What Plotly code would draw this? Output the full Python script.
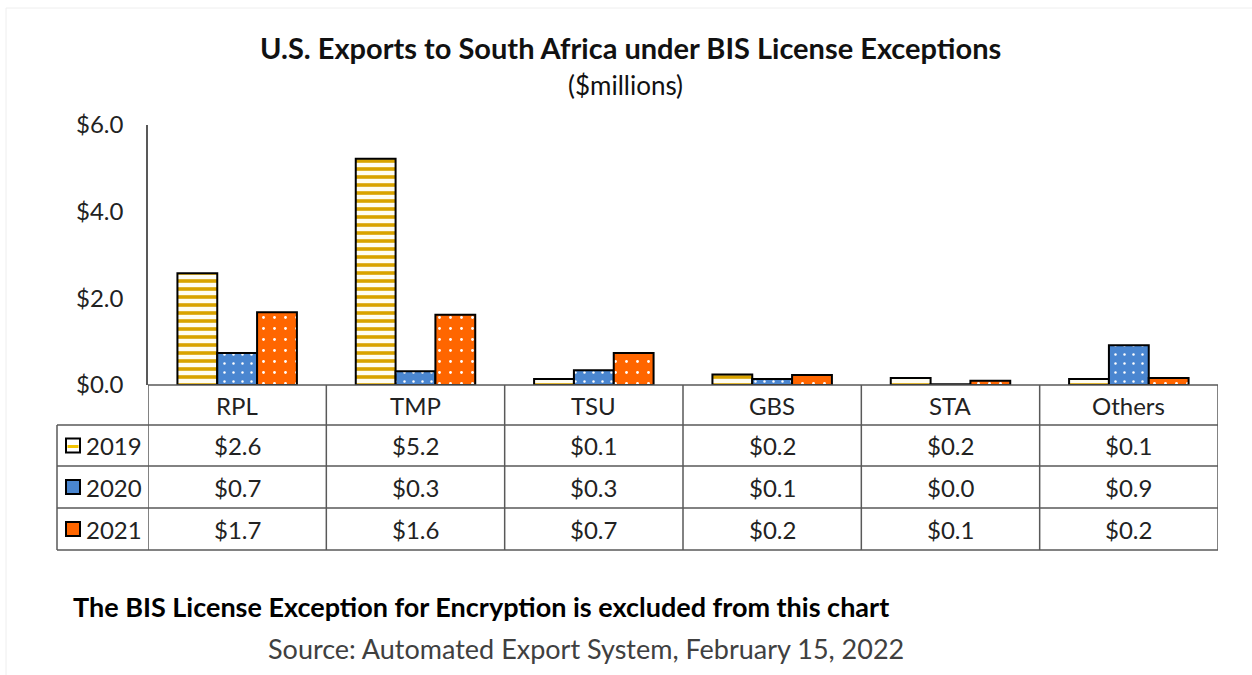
import plotly.graph_objects as go

categories = ["RPL", "TMP", "TSU", "GBS", "STA", "Others"]
years = ["2019", "2020", "2021"]
v2019 = [2.58, 5.22, 0.14, 0.24, 0.16, 0.14]
v2020 = [0.74, 0.32, 0.34, 0.14, 0.02, 0.92]
v2021 = [1.68, 1.62, 0.74, 0.23, 0.10, 0.16]
series = [v2019, v2020, v2021]
yticks = [0, 2, 4, 6]
ytick_text = ["$0.0", "$2.0", "$4.0", "$6.0"]

title = "U.S. Exports to South Africa under BIS License Exceptions"
subtitle = "($millions)"
note = "The BIS License Exception for Encryption is excluded from this chart"
source = "Source: Automated Export System, February 15, 2022"

FONT = "Lato"
TXT = "#222222"
GRID = "#595959"

styles = [
    dict(color="#FFFFFF", pattern=dict(shape="-", fgcolor="#D9A300", bgcolor="#FFFDF2",
                                       size=8, solidity=0.45, fillmode="replace", fgopacity=1)),
    dict(color="#4A86D0", pattern=dict(shape=".", fgcolor="#FFFFFF", bgcolor="#4A86D0",
                                       size=9, solidity=0.06, fillmode="replace", fgopacity=1)),
    dict(color="#FF6600", pattern=dict(shape=".", fgcolor="#FFFFFF", bgcolor="#FF6600",
                                       size=11, solidity=0.05, fillmode="replace", fgopacity=1)),
]

fig = go.Figure()
for yr, vals, st in zip(years, series, styles):
    fig.add_trace(go.Bar(
        x=categories, y=vals, name=yr,
        marker=dict(color=st["color"], pattern=st["pattern"],
                    line=dict(color="#000000", width=2)),
        hoverinfo="x+y",
    ))

W, H = 1252, 675
ml, mr, mt, mb = 148, 34, 125, 290
pw = W - ml - mr
ph = H - mt - mb


def py(pix):
    return (H - mb - pix) / ph


def px(pix):
    return (pix - ml) / pw


row_edges = [385, 425, 466, 508, 550]
left_x = 57
shapes = []
shapes.append(dict(type="line", xref="x", yref="paper", x0=-0.5, x1=len(categories) - 0.5,
                   y0=py(385), y1=py(385), line=dict(color=GRID, width=1.5)))
for r in row_edges[1:]:
    shapes.append(dict(type="line", xref="paper", yref="paper", x0=px(left_x), x1=1,
                       y0=py(r), y1=py(r), line=dict(color=GRID, width=1.5)))
for i in range(len(categories) + 1):
    shapes.append(dict(type="line", xref="x", yref="paper", x0=i - 0.5, x1=i - 0.5,
                       y0=py(385), y1=py(550), line=dict(color=GRID, width=1.5)))
shapes.append(dict(type="line", xref="paper", yref="paper", x0=px(left_x), x1=px(left_x),
                   y0=py(425), y1=py(550), line=dict(color=GRID, width=1.5)))

annotations = []
for i, c in enumerate(categories):
    annotations.append(dict(x=i, y=py(405), xref="x", yref="paper", text=c, showarrow=False,
                            yanchor="middle", xanchor="center",
                            font=dict(family=FONT, size=24, color=TXT)))
key_fill = ["#FFFFFF", "#4A86D0", "#FF6600"]
for j, (yr, vals) in enumerate(zip(years, series)):
    yc = (row_edges[j + 1] + row_edges[j + 2]) / 2
    for i, v in enumerate(vals):
        annotations.append(dict(x=i, y=py(yc), xref="x", yref="paper", text=f"${v:.1f}",
                                showarrow=False, yanchor="middle", xanchor="center",
                                font=dict(family=FONT, size=24, color=TXT)))
    annotations.append(dict(x=px(114), y=py(yc), xref="paper", yref="paper", text=yr,
                            showarrow=False, xanchor="center", yanchor="middle",
                            font=dict(family=FONT, size=24, color=TXT)))
    shapes.append(dict(type="rect", xref="paper", yref="paper", x0=px(66), x1=px(80),
                       y0=py(yc + 7), y1=py(yc - 7), fillcolor=key_fill[j],
                       line=dict(color="#000000", width=2)))
    if j == 0:
        shapes.append(dict(type="rect", xref="paper", yref="paper", x0=px(67.5), x1=px(78.5),
                           y0=py(yc + 2.5), y1=py(yc - 0.5), fillcolor="#F2C200",
                           line=dict(width=0)))

for text, fx, fy, size, color, xa in [
    (f"<b>{title}</b>", 630, 48, 29, "#111111", "center"),
    (subtitle, 625, 85, 26, "#111111", "center"),
    (f"<b>{note}</b>", 71, 606, 27, "#000000", "left"),
    (source, 586, 648, 27, "#404040", "center"),
]:
    annotations.append(dict(x=px(fx), y=py(fy), xref="paper", yref="paper", text=text,
                            showarrow=False, xanchor=xa, yanchor="middle",
                            font=dict(family=FONT, size=size, color=color)))

shapes.append(dict(type="rect", xref="paper", yref="paper", x0=px(6), x1=px(1262),
                   y0=py(690), y1=py(8), line=dict(color="#EEEEEE", width=1),
                   fillcolor="rgba(0,0,0,0)"))

fig.update_layout(
    width=W, height=H,
    margin=dict(l=ml, r=mr, t=mt, b=mb, autoexpand=False),
    paper_bgcolor="white", plot_bgcolor="white",
    barmode="group", bargap=0.33, bargroupgap=0,
    showlegend=False,
    shapes=shapes, annotations=annotations,
    xaxis=dict(showticklabels=False, showline=False, showgrid=False, zeroline=False,
               range=[-0.5, len(categories) - 0.5], fixedrange=True),
    yaxis=dict(range=[0, 6], tickvals=yticks, ticktext=ytick_text, showgrid=False,
               zeroline=False, showline=True, linecolor=GRID, linewidth=1.5, ticks="",
               ticklabelstandoff=18,
               tickfont=dict(family=FONT, size=24, color=TXT)),
)

fig.write_html("out.html", config={"displayModeBar": False},
               post_script="document.body.style.margin='0';")
